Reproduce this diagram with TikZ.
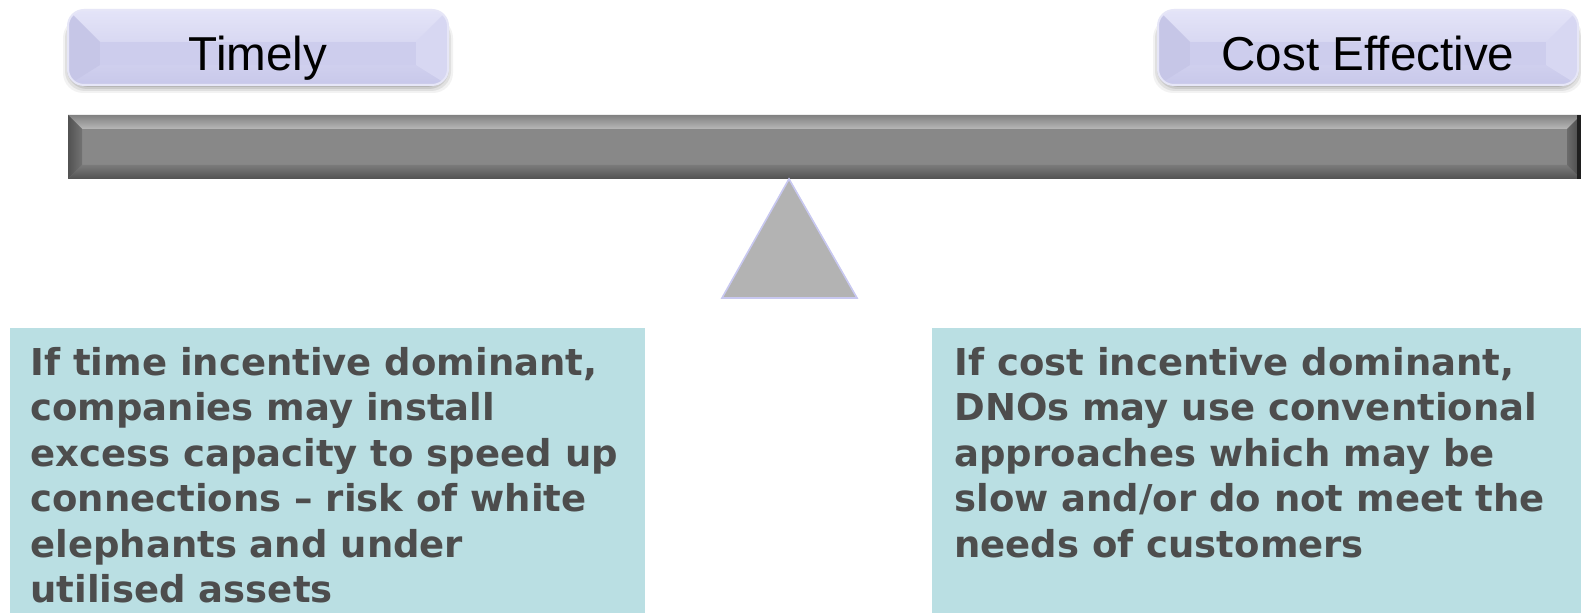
\documentclass[tikz,border=0pt]{standalone}
\usepackage{fontspec}
\setmainfont{Liberation Sans}
\newfontfamily\notefont{DejaVu Sans}

\definecolor{btnface}{RGB}{205,205,237}
\definecolor{btntop}{RGB}{228,228,248}
\definecolor{btnbot}{RGB}{200,200,234}
\definecolor{btnleft}{RGB}{198,198,231}
\definecolor{btnright}{RGB}{215,215,242}
\definecolor{btnrim}{RGB}{230,230,247}
\definecolor{barface}{RGB}{136,136,136}
\definecolor{pivotfill}{RGB}{179,179,179}
\definecolor{pivotrim}{RGB}{200,200,240}
\definecolor{notefill}{RGB}{186,223,227}
\definecolor{notetext}{RGB}{77,77,77}

\tikzset{
  btnlabel/.style={font=\fontsize{23.8pt}{28pt}\selectfont, text=black, inner sep=0pt, anchor=base},
  notebox/.style={fill=notefill, draw=none},
  notelabel/.style={font=\notefont\bfseries\fontsize{18.5pt}{22.7pt}\selectfont,
    text=notetext, align=left, inner sep=0pt, anchor=north west},
}

% bevelled button: #1,#2 top-left, #3,#4 bottom-right, #5 name, #6 label
\newcommand\bevelbutton[6]{%
  \foreach \k/\o in {7/0.05,5/0.07,3/0.09,1/0.10}{
    \fill[black,opacity=\o,rounded corners=10] (#1+2-\k,#2+8) rectangle (#3-2+\k,#4+1+\k);
  }
  \shade[top color=btntop,bottom color=btnbot,rounded corners=8] (#1,#2) rectangle (#3,#4);
  \begin{scope}
    \clip[rounded corners=8] (#1,#2) rectangle (#3,#4);
    \fill[btnleft] (#1,#2) -- (#1+32,#2+32) -- (#1+32,#4-20) -- (#1,#4) -- cycle;
    \fill[btnright] (#3,#2) -- (#3-32,#2+32) -- (#3-32,#4-20) -- (#3,#4) -- cycle;
    \fill[btnface] (#1+32,#2+32) rectangle (#3-32,#4-20);
  \end{scope}
  \draw[btnrim,line width=1pt,rounded corners=8] (#1,#2) rectangle (#3,#4);
  \node[btnlabel] (#5) at ({(#1+#3)/2},71) {#6};
}

\begin{document}
\begin{tikzpicture}[x=0.5pt,y=-0.5pt]
\useasboundingbox[fill=white] (0,0) rectangle (1581,613);

% buttons naming the two sides
\bevelbutton{68}{10}{448}{85}{timely}{Timely}
\bevelbutton{1158}{10}{1578}{85}{cost}{Cost Effective}

% the beam
\fill[barface] (68,115) rectangle (1581,179);
\shade[top color=barface!95!black, bottom color=black!28] (68,115) -- (1581,115) -- (1567,129) -- (82,129) -- cycle;
\shade[top color=black!52, bottom color=black!68] (68,179) -- (1581,179) -- (1567,165) -- (82,165) -- cycle;
\shade[left color=black!68, right color=black!55] (68,115) -- (82,129) -- (82,165) -- (68,179) -- cycle;
\shade[left color=black!58, right color=black!72] (1581,115) -- (1567,129) -- (1567,165) -- (1581,179) -- cycle;
\fill[black!88] (1577,115) rectangle (1581,179);
\node[inner sep=0pt, minimum width=0pt] (bar) at (824,147) {};

% the pivot
\filldraw[fill=pivotfill, draw=pivotrim, line width=0.8pt] (789,179) -- (857,298) -- (722,298) -- cycle;
\node[inner sep=0pt] (pivot) at (789,258) {};

% notes under each side
\fill[notebox] (10,328) rectangle (645,613);
\fill[notebox] (932,328) rectangle (1581,613);
\node[notelabel] (lefttxt) at (30,347) {If time incentive dominant,\\companies may install\\excess capacity to speed up\\connections – risk of white\\elephants and under\\utilised assets};
\node[notelabel] (righttxt) at (954,347) {If cost incentive dominant,\\DNOs may use conventional\\approaches which may be\\slow and/or do not meet the\\needs of customers};
\end{tikzpicture}
\end{document}
